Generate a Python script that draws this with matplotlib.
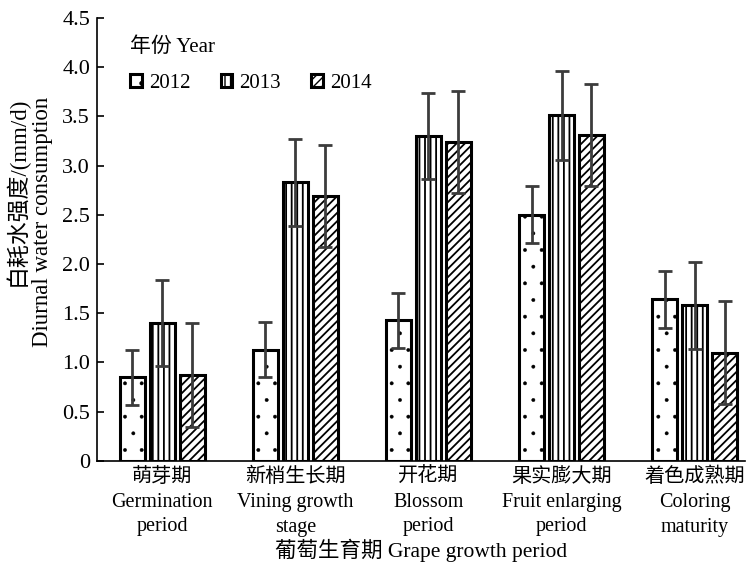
import matplotlib
matplotlib.use('Agg')
import matplotlib.pyplot as plt
import numpy as np

plt.rcParams['font.family'] = ['Liberation Serif', 'Noto Sans CJK SC']
plt.rcParams['hatch.color'] = 'black'

periods = ['萌芽期\nGermination\nperiod', '新梢生长期\nVining growth\nstage',
           '开花期\nBlossom\nperiod', '果实膨大期\nFruit enlarging\nperiod',
           '着色成熟期\nColoring\nmaturity']
years = ['2012', '2013', '2014']

v2012 = [0.85, 1.13, 1.43, 2.50, 1.64]
v2013 = [1.40, 2.83, 3.30, 3.51, 1.58]
v2014 = [0.87, 2.69, 3.24, 3.31, 1.10]

e2012 = [0.28, 0.28, 0.28, 0.29, 0.29]
e2013 = [0.44, 0.44, 0.44, 0.45, 0.44]
e2014 = [0.53, 0.52, 0.52, 0.52, 0.52]

values = [v2012, v2013, v2014]
errors = [e2012, e2013, e2014]
hatches = ['.', '|||', '////']
hatch_lw = [0.3, 1.3, 1.3]

fig = plt.figure(figsize=(7.52, 5.66), dpi=100)
ax = fig.add_axes([0.129, 0.186, 0.862, 0.782])

x = np.arange(len(periods))
w = 0.19
step = 0.225
for i in range(3):
    with plt.rc_context({'hatch.linewidth': hatch_lw[i]}):
        ax.bar(x + (i - 1) * step, values[i], w, color='white', edgecolor='black',
               linewidth=2.2, hatch=hatches[i], label=years[i], zorder=2)
    ax.errorbar(x + (i - 1) * step, values[i], yerr=errors[i], fmt='none',
                ecolor='#3c3c3c', elinewidth=2, capsize=5, capthick=2, zorder=3)

ax.set_xlim(-0.49, 4.38)
ax.set_ylim(0, 4.5)
ax.set_yticks(np.arange(0, 4.51, 0.5))
ax.set_yticklabels(['0'] + ['%.1f' % t for t in np.arange(0.5, 4.51, 0.5)])
ax.set_xticks(x)
ax.set_xticklabels(periods, fontsize=14.5, linespacing=1.42)
ax.tick_params(axis='y', direction='in', length=5, width=1.2, labelsize=16, pad=5)
ax.tick_params(axis='x', length=0, pad=5)
ax.spines['top'].set_visible(False)
ax.spines['right'].set_visible(False)
ax.spines['left'].set_linewidth(1.2)
ax.spines['bottom'].set_linewidth(1.2)

ax.set_ylabel('白耗水强度/(mm/d)\nDiurnal water consumption', fontsize=16.5,
              linespacing=1.2, multialignment='right')
ax.yaxis.set_label_coords(-0.068, 0.54)
ax.set_xlabel('葡萄生育期 Grape growth period', fontsize=15.5, labelpad=1)

leg = ax.legend(loc='upper left', ncol=3, frameon=False, fontsize=15,
                title='年份 Year', title_fontsize=15, handlelength=0.55,
                handleheight=0.55, columnspacing=1.45, handletextpad=0.35,
                borderpad=0, labelspacing=0.3, bbox_to_anchor=(0.035, 0.98))
leg._legend_box.align = 'left'
leg._legend_box.sep = 12

fig.savefig('out.png', dpi=100)
